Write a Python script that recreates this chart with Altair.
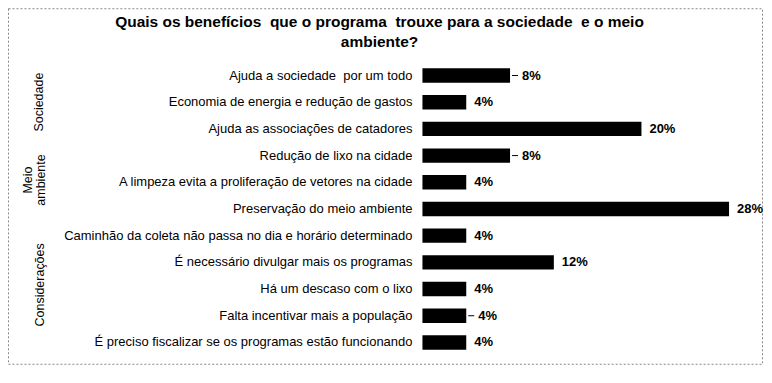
import altair as alt
import pandas as pd

NB = "\u00a0"
title_lines = [
    "Quais os benefícios" + NB + " que o programa" + NB + " trouxe para a sociedade" + NB + " e o meio",
    "ambiente?",
]
categories = [
    "Ajuda a sociedade" + NB + " por um todo",
    "Economia de energia e redução de gastos",
    "Ajuda as associações de catadores",
    "Redução de lixo na cidade",
    "A limpeza evita a proliferação de vetores na cidade" + NB,
    "Preservação do meio ambiente",
    "Caminhão da coleta não passa no dia e horário determinado",
    "É necessário divulgar mais os programas",
    "Há um descaso com o lixo" + NB,
    "Falta incentivar mais a população",
    "É preciso fiscalizar se os programas estão funcionando",
]
values = [8, 4, 20, 8, 4, 28, 4, 12, 4, 4, 4]
pct_labels = ["8%", "4%", "20%", "8%", "4%", "28%", "4%", "12%", "4%", "4%", "4%"]
has_leader = [True, False, False, True, False, False, False, False, False, True, False]
group_names = ["Sociedade", "Meio ambiente", "Considerações"]

FONT = "Liberation Sans"

df = pd.DataFrame({
    "cat": categories,
    "value": values,
    "lbl": pct_labels,
    "leader": has_leader,
})

yscale = alt.Scale(range=[54, 348], paddingInner=0.46, paddingOuter=0.23)
xscale = alt.Scale(domain=[0, 28], range=[415, 722])

base = alt.Chart(df).encode(
    y=alt.Y("cat:N", sort=categories, scale=yscale, axis=None),
)

bars = base.mark_bar(color="black").encode(
    x=alt.X("value:Q", scale=xscale, axis=None),
)

cat_text = base.mark_text(align="right", baseline="middle", font=FONT, fontSize=13, color="black").encode(
    x=alt.value(405),
    text="cat:N",
)

pct_plain = base.transform_filter("!datum.leader").mark_text(
    align="left", baseline="middle", dx=8, font=FONT, fontSize=13, fontWeight="bold", color="black"
).encode(x=alt.X("value:Q", scale=xscale, axis=None), text="lbl:N")

pct_lead = base.transform_filter("datum.leader").mark_text(
    align="left", baseline="middle", dx=12, font=FONT, fontSize=13, fontWeight="bold", color="black"
).encode(x=alt.X("value:Q", scale=xscale, axis=None), text="lbl:N")

leader = base.transform_filter("datum.leader").mark_rule(
    color="black", strokeWidth=1, xOffset=2, x2Offset=8
).encode(
    x=alt.X("value:Q", scale=xscale, axis=None),
    x2="value:Q",
)

one = pd.DataFrame({"t": [0]})
title = alt.Chart(one).mark_text(
    text=title_lines, align="center", baseline="alphabetic", font=FONT, fontSize=15.5,
    fontWeight="bold", lineHeight=19.5, color="black"
).encode(x=alt.value(372), y=alt.value(19))

grp1 = alt.Chart(one).mark_text(
    text=group_names[0], angle=270, align="center", baseline="middle", font=FONT, fontSize=12.5, color="black"
).encode(x=alt.value(31), y=alt.value(94))
grp2 = alt.Chart(one).mark_text(
    text=["Meio", "ambiente"], angle=270, align="center", baseline="middle", font=FONT, fontSize=12.5,
    lineHeight=13.5, color="black"
).encode(x=alt.value(20), y=alt.value(172))
grp3 = alt.Chart(one).mark_text(
    text=group_names[2], angle=270, align="center", baseline="middle", font=FONT, fontSize=12.5, color="black"
).encode(x=alt.value(32), y=alt.value(277))

chart = alt.layer(bars, leader, cat_text, pct_plain, pct_lead, title, grp1, grp2, grp3).properties(
    width=755, height=356,
    autosize=alt.AutoSizeParams(type="none"),
    padding={"left": 0, "top": 0, "right": 2, "bottom": 2},
    background="white",
).configure_view(
    stroke="#888888", strokeWidth=1, strokeDash=[2, 2]
)

chart.save("out.html", embed_options={"renderer": "svg", "actions": False})
